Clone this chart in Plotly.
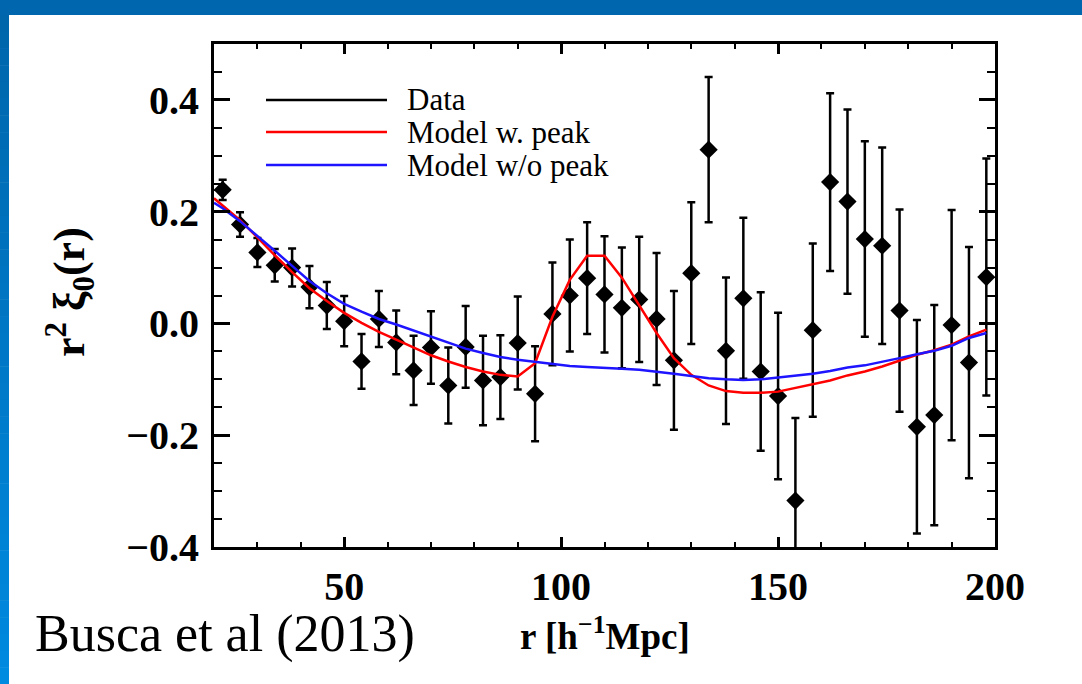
import plotly.graph_objects as go

# ---------------- data ----------------
data_r = [22, 26, 30, 34, 38, 42, 46, 50, 54, 58, 62, 66, 70, 74, 78, 82, 86, 90, 94, 98,
          102, 106, 110, 114, 118, 122, 126, 130, 134, 138, 142, 146, 150, 154, 158, 162,
          166, 170, 174, 178, 182, 186, 190, 194, 198]
data_xi = [0.239, 0.177, 0.127, 0.104, 0.100, 0.065, 0.032, 0.004, -0.068, 0.008,
           -0.034, -0.084, -0.043, -0.111, -0.042, -0.102, -0.096, -0.035, -0.126, 0.017,
           0.050, 0.081, 0.052, 0.028, 0.043, 0.008, -0.066, 0.090, 0.311, -0.049,
           0.045, -0.086, -0.130, -0.317, -0.012, 0.253, 0.218, 0.151, 0.139, 0.023,
           -0.185, -0.164, -0.003, -0.070, 0.083]
data_err = [0.018, 0.022, 0.026, 0.029, 0.034, 0.038, 0.042, 0.045, 0.049, 0.050,
            0.057, 0.062, 0.065, 0.068, 0.073, 0.080, 0.075, 0.083, 0.085, 0.092,
            0.100, 0.100, 0.104, 0.108, 0.112, 0.118, 0.124, 0.127, 0.130, 0.131,
            0.144, 0.142, 0.149, 0.148, 0.155, 0.159, 0.165, 0.175, 0.176, 0.181,
            0.191, 0.197, 0.206, 0.207, 0.212]

model_r = [20, 22, 26, 30, 34, 38, 42, 46, 50, 54, 58, 62, 66, 70, 74, 78, 82, 86, 90, 94,
           98, 102, 106, 110, 114, 118, 122, 126, 130, 134, 138, 142, 146, 150, 154, 158,
           162, 166, 170, 174, 178, 182, 186, 190, 194, 198]
model_peak = [0.224, 0.211, 0.185, 0.154, 0.122, 0.092, 0.063, 0.040, 0.019, 0.001,
              -0.015, -0.029, -0.043, -0.057, -0.068, -0.078, -0.086, -0.092, -0.095, -0.071,
              0.012, 0.078, 0.121, 0.121, 0.082, 0.033, -0.017, -0.062, -0.092, -0.111,
              -0.121, -0.124, -0.124, -0.122, -0.115, -0.109, -0.102, -0.093, -0.086, -0.077,
              -0.066, -0.056, -0.048, -0.038, -0.023, -0.011]
model_nopeak = [0.216, 0.206, 0.183, 0.157, 0.130, 0.103, 0.076, 0.054, 0.035, 0.021,
                0.008, -0.002, -0.013, -0.024, -0.034, -0.045, -0.053, -0.060, -0.065, -0.069,
                -0.073, -0.076, -0.078, -0.079, -0.081, -0.083, -0.086, -0.090, -0.094, -0.098,
                -0.100, -0.101, -0.100, -0.097, -0.093, -0.090, -0.085, -0.079, -0.075, -0.069,
                -0.062, -0.055, -0.049, -0.040, -0.026, -0.017]

legend_labels = ["Data", "Model w. peak", "Model w/o peak"]
legend_colors = ["black", "#ff0000", "#1e14ff"]

x_range = [20, 200]
y_range = [-0.4, 0.5]

W, H = 1082, 684
L, R, T, B = 214, 995, 44, 547   # plot area in pixels

def px(xp):
    return (xp - L) / (R - L)

def py(yp):
    return (B - yp) / (B - T)

fig = go.Figure()

fig.add_trace(go.Scatter(
    x=data_r, y=data_xi, mode="markers",
    marker=dict(symbol="diamond", size=14, color="black"),
    error_y=dict(type="data", array=data_err, color="black", thickness=2.5, width=4),
    showlegend=False,
))
fig.add_trace(go.Scatter(
    x=model_r, y=model_peak, mode="lines",
    line=dict(color=legend_colors[1], width=2.5), showlegend=False,
))
fig.add_trace(go.Scatter(
    x=model_r, y=model_nopeak, mode="lines",
    line=dict(color=legend_colors[2], width=2.5), showlegend=False,
))

serif = "Liberation Serif, Times New Roman, serif"

fig.update_xaxes(
    range=x_range, tick0=0, dtick=50, ticks="inside", ticklen=10, tickwidth=2.5,
    tickcolor="black", showline=True, linecolor="black", linewidth=3, mirror="allticks",
    showgrid=False, zeroline=False,
    minor=dict(dtick=10, ticks="inside", ticklen=5, tickwidth=2, tickcolor="black"),
    tickfont=dict(family=serif, size=40, color="black", weight="bold"),
    ticklabelstandoff=2,
)
fig.update_yaxes(
    range=y_range, tick0=0, dtick=0.2, tickformat=".1f", ticks="inside", ticklen=16,
    tickwidth=2.5, tickcolor="black", showline=True, linecolor="black", linewidth=3,
    mirror="allticks", showgrid=False, zeroline=False,
    minor=dict(dtick=0.05, ticks="inside", ticklen=8, tickwidth=2, tickcolor="black"),
    tickfont=dict(family=serif, size=40, color="black", weight="bold"),
    ticklabelstandoff=4,
)

shapes = []
# blue slide frame: top band
shapes.append(dict(type="rect", xref="paper", yref="paper",
                   x0=px(0), x1=px(W), y0=py(0), y1=py(15),
                   fillcolor="#0067ae", line=dict(width=0), layer="above"))
# left band with vertical gradient
n = 40
c_top = (0, 102, 172)
c_bot = (0, 138, 224)
for i in range(n):
    f = i / (n - 1)
    c = tuple(int(round(c_top[k] + (c_bot[k] - c_top[k]) * f)) for k in range(3))
    y0p = 15 + (H - 15) * i / n
    y1p = 15 + (H - 15) * (i + 1) / n + 0.5
    shapes.append(dict(type="rect", xref="paper", yref="paper",
                       x0=px(0), x1=px(9), y0=py(y1p), y1=py(y0p),
                       fillcolor="rgb(%d,%d,%d)" % c, line=dict(width=0), layer="above"))

annotations = []
# legend drawn inside the plot
leg_y = [100, 132, 165]
for lab, col, yy in zip(legend_labels, legend_colors, leg_y):
    shapes.append(dict(type="line", xref="paper", yref="paper",
                       x0=px(266), x1=px(387), y0=py(yy), y1=py(yy),
                       line=dict(color=col, width=2.5)))
    annotations.append(dict(xref="paper", yref="paper", x=px(405), y=py(yy),
                            text=lab, showarrow=False, xanchor="left", yanchor="middle",
                            font=dict(family=serif, size=31, color="black")))

# axis titles
annotations.append(dict(xref="paper", yref="paper", x=px(605), y=py(633),
                        text="r [h<sup>−1</sup>Mpc]", showarrow=False,
                        xanchor="center", yanchor="middle",
                        font=dict(family=serif, size=37, color="black", weight="bold")))
annotations.append(dict(xref="paper", yref="paper", x=px(70), y=py(292),
                        text="r<sup>2</sup> ξ<sub>0</sub>(r)", showarrow=False, textangle=-90,
                        xanchor="center", yanchor="middle",
                        font=dict(family=serif, size=44, color="black", weight="bold")))
# citation
annotations.append(dict(xref="paper", yref="paper", x=px(33), y=py(634),
                        text="Busca et al (2013)", showarrow=False,
                        xanchor="left", yanchor="middle",
                        font=dict(family=serif, size=52, color="black")))

fig.update_layout(
    width=W, height=H, autosize=False,
    margin=dict(l=L, r=W - R, t=T, b=H - B, pad=0),
    paper_bgcolor="white", plot_bgcolor="white",
    shapes=shapes, annotations=annotations, showlegend=False,
)

fig.write_html("out.html", config={"displayModeBar": False},
               post_script="document.body.style.margin='0';")
